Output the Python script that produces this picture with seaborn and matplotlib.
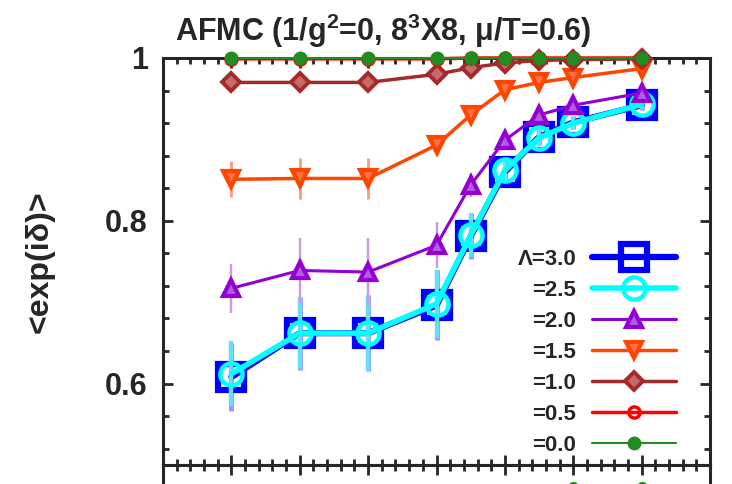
import matplotlib
matplotlib.use("Agg")
import matplotlib.pyplot as plt
import matplotlib.ticker as ticker
import seaborn as sns

# data
x_vals = [1, 2, 3, 4, 4.5, 5, 5.5, 6, 7]

lam_30 = [0.608, 0.662, 0.662, 0.696, 0.781, 0.860, 0.903, 0.921, 0.942]
err_30 = [0.042, 0.045, 0.047, 0.043, 0.028, 0.015, 0.010, 0.008, 0.006]
lam_25 = [0.612, 0.662, 0.662, 0.698, 0.782, 0.862, 0.902, 0.920, 0.943]
err_25 = [0.040, 0.044, 0.046, 0.042, 0.027, 0.014, 0.010, 0.008, 0.006]
lam_20 = [0.717, 0.739, 0.737, 0.770, 0.844, 0.899, 0.930, 0.942, 0.957]
err_20 = [0.030, 0.040, 0.042, 0.028, 0.015, 0.010, 0.008, 0.008, 0.006]
lam_15 = [0.851, 0.852, 0.852, 0.893, 0.930, 0.961, 0.970, 0.976, 0.987]
err_15 = [0.022, 0.025, 0.025, 0.012, 0.008, 0.006, 0.005, 0.004, 0.003]
lam_10 = [0.970, 0.970, 0.970, 0.980, 0.988, 0.994, 0.997, 0.998, 0.999]
err_10 = [0.004, 0.004, 0.004, 0.006, 0.005, 0.003, 0.002, 0.002, 0.001]
lam_05 = [0.999, 0.999, 0.999, 0.999, 1.0, 1.0, 1.0, 1.0, 1.0]
lam_00 = [1.0, 1.0, 1.0, 1.0, 1.0, 1.0, 1.0, 1.0, 1.0]

# bit of the panel below that shows at the bottom edge
low_x = [5.5, 6, 7]
low_00 = [0.965, 0.973, 0.973]

labels = ['\u039b=3.0', '=2.5', '=2.0', '=1.5', '=1.0', '=0.5', '=0.0']

sns.set_style("ticks")
plt.rcParams['font.family'] = ['Liberation Sans', 'DejaVu Sans']
plt.rcParams['font.weight'] = 'bold'
plt.rcParams['mathtext.fontset'] = 'custom'
plt.rcParams['mathtext.rm'] = 'Liberation Sans:bold'
plt.rcParams['mathtext.bf'] = 'Liberation Sans:bold'
plt.rcParams['mathtext.default'] = 'rm'

fig = plt.figure(figsize=(7.32, 4.84), dpi=100)
ax = fig.add_axes([163/732, 1 - 465/484, (710-163)/732, (465-58)/484])
ax2 = fig.add_axes([163/732, 1 - 465/484 - 0.84, (710-163)/732, 0.84])

# values, errors, colour, errorbar colour, marker, size, edge width, line width, face
series = [
    (lam_30, err_30, '#0000ff', '#9999ff', 's', 19, 4.5, 4.5, 'none'),
    (lam_25, err_25, '#00ffff', '#66ddff', 'o', 16, 3.2, 4.0, 'none'),
    (lam_20, err_20, '#9400d3', '#c99be6', '^', 11, 3.0, 2.2, '#b05ee0'),
    (lam_15, err_15, '#ff4500', '#ff9a80', 'v', 11, 3.0, 2.5, '#ff7040'),
    (lam_10, err_10, '#a52a2a', '#d08f8f', 'D', 9, 2.8, 2.5, '#c86a6a'),
    (lam_05, None, '#ff0000', '#ff8080', 'o', 8, 2.5, 2.5, 'none'),
    (lam_00, None, '#228b22', '#88c088', 'o', 9, 1.0, 1.5, '#228b22'),
]

handles = []
for i, (vals, errs, col, ecol, mk, ms, mew, lw, face) in enumerate(series):
    if errs is not None:
        ax.errorbar(x_vals, vals, yerr=errs, fmt='none', ecolor=ecol,
                    elinewidth=lw * 0.8, capsize=0, zorder=2 + i * 2)
    sns.lineplot(x=x_vals, y=vals, ax=ax, color=col, marker=mk, markersize=ms,
                 markerfacecolor=face, markeredgecolor=col,
                 markeredgewidth=mew, linewidth=lw, clip_on=False,
                 zorder=3 + i * 2, legend=False)
    ln = ax.lines[-1]
    ln.set_label(labels[i])
    handles.append(ln)

sns.lineplot(x=low_x, y=low_00, ax=ax2, color='#228b22', marker='o',
             markersize=9, markeredgewidth=1.0, linewidth=1.5, legend=False)

for a in (ax, ax2):
    a.set_xlim(0, 8)
    a.set_ylim(0.5, 1.0)
    a.xaxis.set_major_locator(ticker.MultipleLocator(1))
    a.xaxis.set_minor_locator(ticker.MultipleLocator(0.2))
    a.yaxis.set_major_locator(ticker.MultipleLocator(0.2))
    a.yaxis.set_minor_locator(ticker.MultipleLocator(0.04))
    a.tick_params(which='both', direction='in', top=True, right=True, width=2)
    a.tick_params(which='major', length=7)
    a.tick_params(which='minor', length=4)
    a.set_xlabel('')
    a.set_ylabel('')
    for s in a.spines.values():
        s.set_linewidth(2.2)
        s.set_visible(True)

ax.tick_params(axis='x', labelbottom=False)
ax.tick_params(axis='y', labelsize=22, pad=11)
ax.yaxis.set_major_formatter(ticker.FuncFormatter(
    lambda v, p: '1' if abs(v - 1) < 1e-9 else f'{v:.1f}'))
for t in ax.get_yticklabels():
    t.set_fontweight('bold')
ax2.tick_params(labelbottom=False, labelleft=False)

leg = ax.legend(handles=handles, loc='lower right', bbox_to_anchor=(0.955, 0.0),
                frameon=False, markerfirst=False, fontsize=16,
                handlelength=3.8, handletextpad=0.7, labelspacing=0.45,
                borderaxespad=0)
for col_box in leg._legend_handle_box.get_children():
    col_box.align = 'right'
for t in leg.get_texts():
    t.set_fontweight('bold')

fig.text(175/732, 1 - 31/484, r'AFMC (1/g$^{2}$=0, 8$^{3}$X8, $\mu$/T=0.6)',
         ha='left', va='center', fontsize=22, fontweight='bold')
fig.text(40/732, 1 - 262/484, '<exp(i\u03b4)>', rotation=90,
         ha='center', va='center', fontsize=23, fontweight='bold')

fig.savefig('out.png', dpi=100)
